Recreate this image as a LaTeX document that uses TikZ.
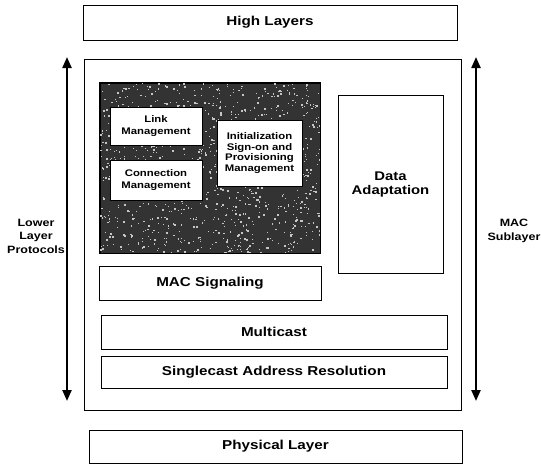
\documentclass[tikz,border=0pt]{standalone}
\usepackage{fontspec}
\setmainfont{Liberation Sans}[FakeStretch=1.18]
\usetikzlibrary{arrows.meta}
\begin{document}
\begin{tikzpicture}[x=1pt,y=-1pt,
  box/.style={draw=black, line width=0.9pt, fill=white, inner sep=0pt, align=center,
    font=\bfseries\fontsize{12.9}{14}\selectfont},
  small/.style={box, line width=0.7pt, font=\bfseries\fontsize{9.6}{10.5}\selectfont},
  dark/.style={draw=black, line width=0.8pt, fill=black!80, inner sep=0pt},
  lbl/.style={align=center, inner sep=0pt, font=\bfseries\fontsize{10.6}{13.5}\selectfont},
  arr/.style={{Triangle[width=9pt,length=11pt]}-{Triangle[width=9pt,length=11pt]}, line width=2.2pt}]
\useasboundingbox (0,0) rectangle (541,467);
\fill[white] (0,0) rectangle (541,467);

\node[box, minimum width=374pt, minimum height=35pt] (high) at (270,22.5) {High Layers};
\node[box, minimum width=377pt, minimum height=351pt] (mac) at (272.5,234.5) {};
\node[box, minimum width=373pt, minimum height=33pt] (phys) at (275.5,446.5) {Physical Layer};

\node[dark, minimum width=220pt, minimum height=170pt] (dark) at (210,168) {};
\begin{scope}
  \clip (100,83) rectangle (320,253);
  \pgfmathsetseed{7}
  \foreach \i in {1,...,1100} {
    \pgfmathsetmacro{\sz}{0.6+1.4*rnd}
    \fill[gray!45] ({100+220*rnd},{83+170*rnd}) rectangle +(\sz,\sz);
  }
\end{scope}
\draw[line width=0.8pt] (dark.north west) rectangle (dark.south east);

\node[small, minimum width=92pt, minimum height=38pt, font=\bfseries\fontsize{9.6}{12.5}\selectfont] (link) at (156,126) {Link\\Management};
\node[small, minimum width=92pt, minimum height=40pt, font=\bfseries\fontsize{9.6}{12.5}\selectfont] (conn) at (156,180) {Connection\\Management};
\node[small, minimum width=85pt, minimum height=66pt] (init) at (259.5,153) {Initialization\\Sign-on and\\Provisioning\\Management};

\node[box, minimum width=105pt, minimum height=178pt, font=\bfseries\fontsize{12.6}{14}\selectfont] (data) at (390.5,184) {Data\\Adaptation};
\node[box, minimum width=222pt, minimum height=34pt] (macsig) at (210,283) {MAC Signaling};
\node[box, minimum width=346pt, minimum height=34pt] (multi) at (274,332) {Multicast};
\node[box, minimum width=346pt, minimum height=32pt] (single) at (274,372) {Singlecast Address Resolution};

\coordinate (la1) at (67,57);
\coordinate (la2) at (67,401);
\coordinate (ra1) at (476,57);
\coordinate (ra2) at (476,401);
\draw[arr] (la1) -- (la2);
\draw[arr] (ra1) -- (ra2);

\node[lbl] (lower) at (36,236) {Lower\\Layer\\Protocols};
\node[lbl] (sub) at (514,231) {MAC\\Sublayer};
\end{tikzpicture}
\end{document}
